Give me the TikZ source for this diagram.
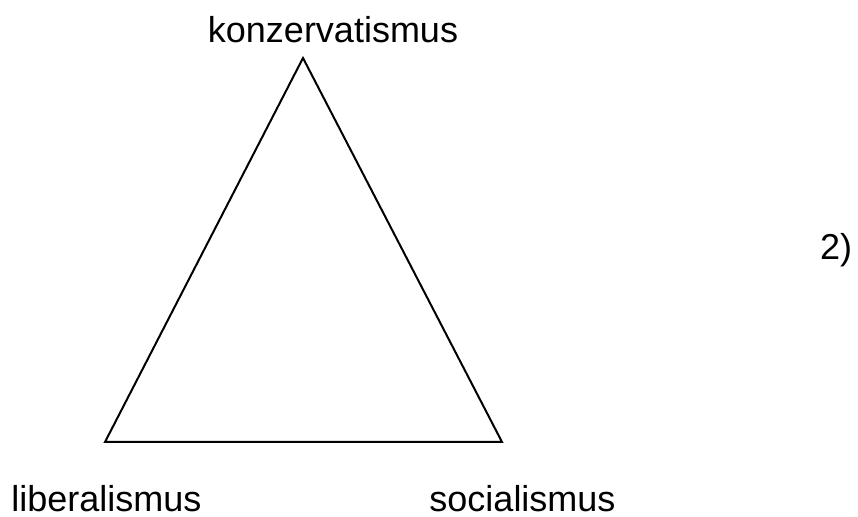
\documentclass[tikz,border=0pt]{standalone}
\usepackage{fontspec}
\setmainfont{Liberation Sans}
\usetikzlibrary{positioning}

\begin{document}
\begin{tikzpicture}[x=0.5pt,y=-0.5pt,
      term/.style={anchor=base,inner sep=0pt,text depth=0pt,font=\fontsize{18}{21.6}\selectfont},
      side/.style={line width=1pt,line join=miter}
    ]
    \useasboundingbox (0,0) rectangle (858,517);
    \coordinate (top) at (303,58);
    \coordinate (left) at (105,442);
    \coordinate (right) at (502,442);
    \draw[side] (top) -- (left) -- (right) -- cycle;
    \node[term] (kon) at (333,43) {konzervatismus};
    \node[term] (lib) at (106.5,512) {liberalismus};
    \node[term] (soc) at (522.5,512) {socialismus};
    \node[term] (num) at (836,260) {2)};
  \end{tikzpicture}
\end{document}
